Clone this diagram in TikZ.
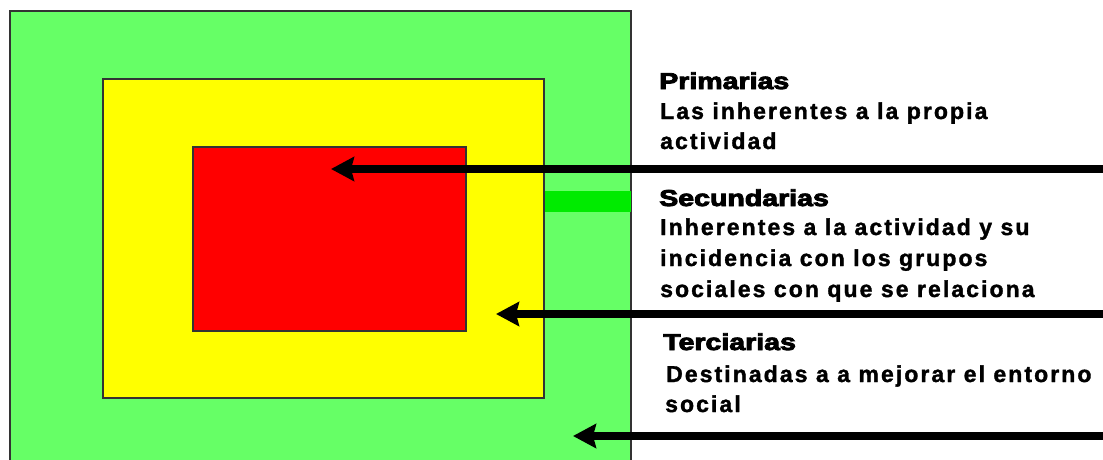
\documentclass[tikz,border=0pt]{standalone}
\usepackage{fontspec}
\usetikzlibrary{arrows.meta}
\newfontfamily\bodyfont[LetterSpace=9,FakeBold=1.5]{Liberation Sans Bold}
\newfontfamily\titlefont[FakeBold=3.5]{Liberation Sans Bold}
\definecolor{lgreen}{RGB}{102,255,102}
\definecolor{byellow}{RGB}{255,255,0}
\definecolor{bred}{RGB}{255,0,0}
\definecolor{vgreen}{RGB}{0,235,0}
\tikzset{
  zone/.style={draw=black!80,line width=1.3pt},
  ptr/.style={line width=7.5pt,-{Stealth[length=23pt,width=24pt,inset=3pt]}},
  ttl/.style={anchor=base west,inner sep=0pt,font=\titlefont\fontsize{23}{23}\selectfont,xscale=1.24},
  txt/.style={anchor=base west,inner sep=0pt,font=\bodyfont\fontsize{23}{23}\selectfont}
}
\begin{document}
\begin{tikzpicture}[x=1pt,y=-1pt]
\useasboundingbox (0,0) rectangle (1103,459);
\fill[white] (0,0) rectangle (1103,459);
\draw[zone,fill=lgreen] (10,11) rectangle (631,470);
\fill[vgreen] (545,191) rectangle (631,212);
\draw[zone,fill=byellow] (103,79) rectangle (544,398);
\draw[zone,fill=bred] (193,147) rectangle (466,331);
% texts
\node[ttl] (t1) at (659,89) {Primarias};
\node[txt] (l11) at (660,119) {Las inherentes a la propia};
\node[txt] (l12) at (660,149) {actividad};
\node[ttl] (t2) at (659,206) {Secundarias};
\node[txt] (l21) at (660,235) {Inherentes a la actividad y su};
\node[txt] (l22) at (660,266) {incidencia con los grupos};
\node[txt] (l23) at (660,297) {sociales con que se relaciona};
\node[ttl] (t3) at (663,350) {Terciarias};
\node[txt] (l31) at (666,382) {Destinadas a a mejorar el entorno};
\node[txt] (l32) at (665,412) {social};
% arrows
\coordinate (s1) at (1106,169);
\coordinate (e1) at (331,169);
\coordinate (s2) at (1106,314);
\coordinate (e2) at (496,314);
\coordinate (s3) at (1106,436);
\coordinate (e3) at (573,436);
\draw[ptr] (s1) -- (e1);
\draw[ptr] (s2) -- (e2);
\draw[ptr] (s3) -- (e3);
\end{tikzpicture}
\end{document}
